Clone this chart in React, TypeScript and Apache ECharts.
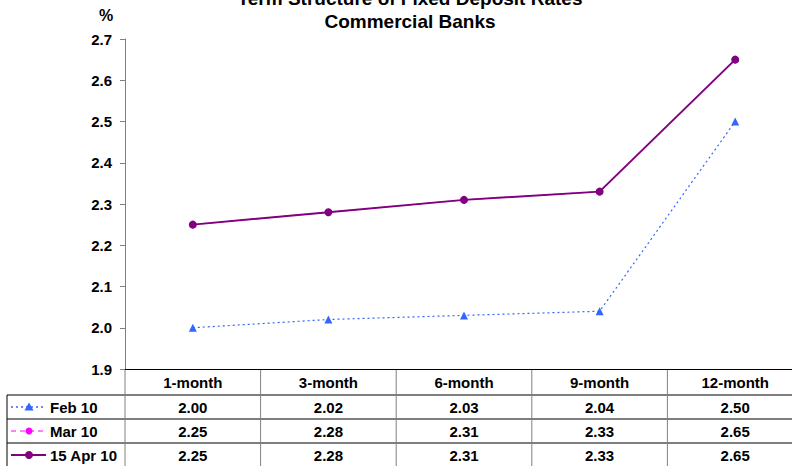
import React, { useEffect, useRef } from "react";
import * as echarts from "echarts";

const titleLines = ["Term Structure of Fixed Deposit Rates", "Commercial Banks"];
const categories = ["1-month", "3-month", "6-month", "9-month", "12-month"];
const seriesNames = ["Feb 10", "Mar 10", "15 Apr 10"];
const feb10 = [2.0, 2.02, 2.03, 2.04, 2.5];
const mar10 = [2.25, 2.28, 2.31, 2.33, 2.65];
const apr15 = [2.25, 2.28, 2.31, 2.33, 2.65];
const seriesValues = [feb10, mar10, apr15];
const seriesColors = ["#3366FF", "#FF00FF", "#800080"];

const FONT = "Arial, 'Liberation Sans', Helvetica, sans-serif";

export default function App() {
  const ref = useRef<HTMLDivElement>(null);
  useEffect(() => {
    if (!ref.current) return;
    const chart = echarts.init(ref.current, null, { renderer: "svg" });
    chart.setOption({
      animation: false,
      backgroundColor: "#ffffff",
      grid: {
        left: 125,
        top: 39,
        width: 678,
        height: 330,
        containLabel: false,
        outerBoundsMode: "none",
      },
      xAxis: {
        type: "category",
        data: categories,
        boundaryGap: true,
        axisLine: { show: true, lineStyle: { color: "#000", width: 1 } },
        axisTick: { show: false },
        axisLabel: { show: false },
        splitLine: { show: false },
      },
      yAxis: {
        type: "value",
        min: 1.9,
        max: 2.7,
        interval: 0.1,
        axisLine: { show: true, lineStyle: { color: "#808080", width: 1 } },
        axisTick: { show: true, inside: false, length: 5, lineStyle: { color: "#808080" } },
        axisLabel: {
          margin: 13,
          color: "#000",
          fontFamily: FONT,
          fontWeight: "bold",
          fontSize: 15,
          formatter: (v: number) => v.toFixed(1),
        },
        splitLine: { show: false },
      },
      series: [
        {
          name: seriesNames[0],
          type: "line",
          data: feb10,
          color: seriesColors[0],
          symbol: "triangle",
          symbolSize: 8,
          lineStyle: { type: [2, 3], width: 1.2, color: seriesColors[0] },
          itemStyle: { color: seriesColors[0] },
        },
        {
          name: seriesNames[1],
          type: "line",
          data: mar10,
          color: seriesColors[1],
          symbol: "circle",
          symbolSize: 7,
          lineStyle: { type: [5, 4], width: 1, color: seriesColors[1] },
          itemStyle: { color: seriesColors[1] },
        },
        {
          name: seriesNames[2],
          type: "line",
          data: apr15,
          color: seriesColors[2],
          symbol: "circle",
          symbolSize: 8,
          lineStyle: { type: "solid", width: 2, color: seriesColors[2] },
          itemStyle: { color: seriesColors[2] },
        },
      ],
    });

    const xs = categories.map((c) => chart.convertToPixel({ xAxisIndex: 0 }, c) as number);
    const band = xs[1] - xs[0];
    const yBottom = chart.convertToPixel({ yAxisIndex: 0 }, 1.9) as number;
    const leftX = 125;
    const tableLeft = 7;
    const rightX = xs[xs.length - 1] + band / 2;
    const headerBottom = yBottom + 26;
    const rowH = 24;
    const rowLines = [headerBottom, headerBottom + rowH, headerBottom + 2 * rowH, headerBottom + 3 * rowH];
    const bottom = 470;

    const g: any[] = [];
    // title
    titleLines.forEach((t, i) => {
      g.push({
        type: "text",
        x: 410,
        y: -2 + i * 23,
        style: {
          text: t,
          fill: "#000",
          font: `bold 19px ${FONT}`,
          textAlign: "center",
          textVerticalAlign: "middle",
        },
      });
    });
    g.push({
      type: "text",
      x: 106,
      y: 15,
      style: { text: "%", fill: "#000", font: `bold 16px ${FONT}`, textAlign: "center", textVerticalAlign: "middle" },
    });

    // horizontal table lines
    rowLines.slice(0, 3).forEach((y) => {
      g.push({
        type: "line",
        shape: { x1: tableLeft, y1: y, x2: rightX, y2: y },
        style: { stroke: "#000", lineWidth: 1 },
      });
    });
    // vertical lines
    g.push({
      type: "line",
      shape: { x1: tableLeft, y1: headerBottom, x2: tableLeft, y2: bottom },
      style: { stroke: "#000", lineWidth: 1 },
    });
    g.push({
      type: "line",
      shape: { x1: leftX, y1: yBottom, x2: leftX, y2: bottom },
      style: { stroke: "#808080", lineWidth: 1 },
    });
    xs.forEach((x, i) => {
      if (i === 0) return;
      const bx = x - band / 2;
      g.push({
        type: "line",
        shape: { x1: bx, y1: yBottom, x2: bx, y2: bottom },
        style: { stroke: "#808080", lineWidth: 1 },
      });
    });

    // header row
    xs.forEach((x, i) => {
      g.push({
        type: "text",
        x,
        y: (yBottom + headerBottom) / 2,
        style: {
          text: categories[i],
          fill: "#000",
          font: `bold 15px ${FONT}`,
          textAlign: "center",
          textVerticalAlign: "middle",
        },
      });
    });

    // data rows
    seriesValues.forEach((vals, r) => {
      const cy = rowLines[r] + rowH / 2;
      vals.forEach((v, i) => {
        g.push({
          type: "text",
          x: xs[i],
          y: cy,
          style: {
            text: v.toFixed(2),
            fill: "#000",
            font: `bold 15px ${FONT}`,
            textAlign: "center",
            textVerticalAlign: "middle",
          },
        });
      });
      // legend key
      const col = seriesColors[r];
      const lineDash = r === 0 ? [2, 3] : r === 1 ? [5, 4] : null;
      g.push({
        type: "line",
        shape: { x1: 11, y1: cy, x2: 46, y2: cy },
        style: { stroke: col, lineWidth: r === 2 ? 2 : r === 0 ? 1.5 : 1, lineDash },
      });
      if (r === 0) {
        g.push({
          type: "polygon",
          shape: { points: [[29, cy - 4.5], [33.5, cy + 3.5], [24.5, cy + 3.5]] },
          style: { fill: col },
        });
      } else {
        g.push({
          type: "circle",
          shape: { cx: 29, cy, r: r === 2 ? 4 : 3.5 },
          style: { fill: col },
        });
      }
      g.push({
        type: "text",
        x: 50,
        y: cy,
        style: {
          text: seriesNames[r],
          fill: "#000",
          font: `bold 15px ${FONT}`,
          textAlign: "left",
          textVerticalAlign: "middle",
        },
      });
    });

    chart.setOption({ graphic: g });
    return () => chart.dispose();
  }, []);
  return (
    <div
      ref={ref}
      style={{ position: "fixed", left: 0, top: 0, width: 792, height: 466, background: "#fff" }}
    />
  );
}
